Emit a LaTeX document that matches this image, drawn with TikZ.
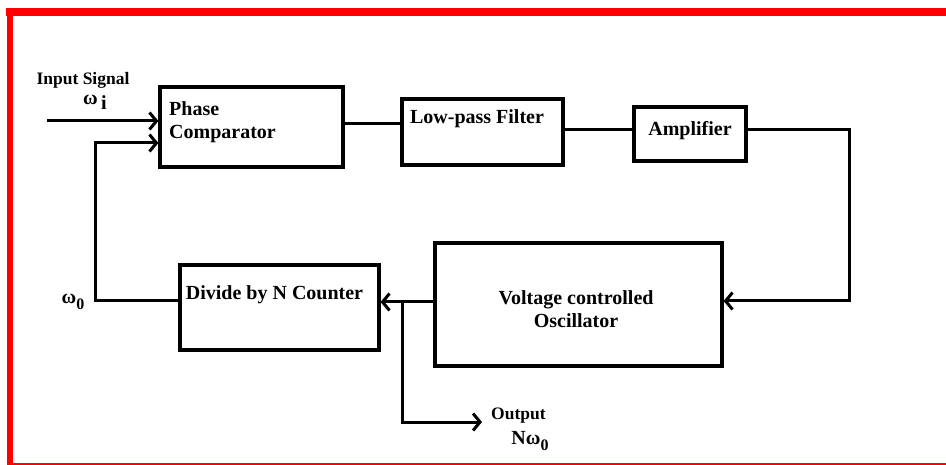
\documentclass[tikz,border=0pt]{standalone}
\usepackage{fontspec}
\setmainfont{Liberation Serif}
\usetikzlibrary{arrows.meta}
\begin{document}
\begin{tikzpicture}[x=1pt,y=-1pt,
  blk/.style={draw=black, line width=3.2pt, rectangle, inner sep=0pt},
  txt/.style={font=\fontsize{20}{23}\selectfont\bfseries, inner sep=0pt},
  small/.style={font=\fontsize{17.5}{20}\selectfont\bfseries, inner sep=0pt},
  wire/.style={line width=3pt},
  arr/.style={line width=3pt, -{Straight Barb[length=7pt,width=17pt]}}]
\useasboundingbox (0,0) rectangle (946,465);
% red frame
\fill[red] (6,8) rectangle (946,16);
\fill[red] (7,8) rectangle (13,465);
\fill[red] (7,462.5) rectangle (946,464.5);
% blocks
\node[blk, minimum width=183pt, minimum height=80pt] (pc) at (251.5,127) {};
\node[txt, anchor=west, align=left] (pct) at (169,122) {Phase\\Comparator};
\node[blk, minimum width=161pt, minimum height=66pt] (lpf) at (482.5,132) {};
\node[txt] (lpft) at (477,119) {Low-pass Filter};
\node[blk, minimum width=112pt, minimum height=54pt] (amp) at (690,134) {};
\node[txt] (ampt) at (690,131) {Amplifier};
\node[blk, minimum width=287pt, minimum height=123pt] (vco) at (578.5,304.5) {};
\node[txt, align=center] (vcot) at (576,309) {Voltage controlled\\Oscillator};
\node[blk, minimum width=199pt, minimum height=85pt] (dv) at (279.5,307.5) {};
\node[txt] (dvt) at (274.5,295) {Divide by N Counter};
% labels
\node[small] (ins) at (83,80) {Input Signal};
\node[txt] (wi) at (95,102) {ω\,\raisebox{-5pt}{i}};
\node[txt] (w0) at (73,302) {ω\raisebox{-6pt}{\fontsize{16}{18}\selectfont 0}};
\node[small, anchor=west] (outl) at (491,416) {Output};
\node[txt] (nw0) at (530,441) {Nω\raisebox{-6pt}{\fontsize{16}{18}\selectfont 0}};
% coordinates
\coordinate (in) at (47,121);
\coordinate (fbc) at (95,301);
\coordinate (fbt) at (95,143);
\coordinate (c1) at (0,124);
\coordinate (c2) at (0,130);
\coordinate (rc) at (849,130);
\coordinate (rb) at (849,301);
\coordinate (c3) at (0,302);
\coordinate (br) at (402,302);
\coordinate (bd) at (402,422);
\coordinate (outp) at (482,422);
% connectors
\draw[arr] (in) -- (in -| pc.west);
\draw[arr] (dv.west |- fbc) -- (fbc) -- (fbt) -- (fbt -| pc.west);
\draw[wire] (pc.east |- c1) -- (lpf.west |- c1);
\draw[wire] (lpf.east |- c2) -- (amp.west |- c2);
\draw[arr] (amp.east |- rc) -- (rc) -- (rb) -- (vco.east |- rb);
\draw[arr] (vco.west |- c3) -- (dv.east |- c3);
\draw[arr] (br) -- (bd) -- (outp);
\end{tikzpicture}
\end{document}
